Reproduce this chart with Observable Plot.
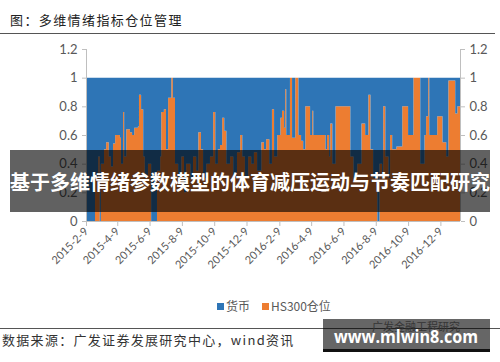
<!DOCTYPE html>
<html><head><meta charset="utf-8">
<script src="https://cdn.jsdelivr.net/npm/d3@7"></script>
<script src="https://cdn.jsdelivr.net/npm/@observablehq/plot@0.6"></script>
<style>
html,body{margin:0;padding:0;}
body{width:500px;height:362px;position:relative;overflow:hidden;background:#fff;font-family:"Noto Sans CJK SC",sans-serif;}
.abs{position:absolute;}
#title{left:10px;top:12px;font-size:13px;letter-spacing:1.4px;color:#222;line-height:16px;white-space:nowrap;}
.hr{position:absolute;left:0;height:1px;background:#555;}
#chart{left:0;top:38px;}
#legend{top:298px;left:0;width:500px;font-size:12px;color:#595959;line-height:16px;}
.sw{position:absolute;width:7px;height:7px;top:5px;}
.lt{position:absolute;top:0;white-space:nowrap;}
#banner{left:10px;top:150px;width:480px;height:62px;background:rgba(0,0,0,0.62);}
#bannerText{left:10px;top:169px;width:480px;text-align:center;font-size:20px;font-weight:bold;color:#fff;line-height:26px;white-space:nowrap;}
#source{left:2px;top:332px;font-size:13px;letter-spacing:1.3px;color:#333;line-height:16px;white-space:nowrap;}
</style></head><body>
<div id="title" class="abs">图：多维情绪指标仓位管理</div>
<div class="hr" style="top:33px;width:495px"></div>
<div id="chart" class="abs"></div>
<div id="legend" class="abs"></div>
<div id="banner" class="abs"></div>
<div id="bannerText" class="abs">基于多维情绪参数模型的体育减压运动与节奏匹配研究</div>
<div class="hr" style="top:328px;width:500px"></div>
<div id="source" class="abs">数据来源：广发证券发展研究中心，wind资讯</div>
<svg class="abs" style="left:0;top:0" width="500" height="362">
  <text x="372" y="331" font-size="11" fill="#888" font-family="Noto Sans CJK SC">广发金融工程研究</text>
  <rect x="323" y="319" width="167" height="31" fill="rgba(0,0,0,0.6)"></rect>
  <rect x="323" y="349" width="167" height="3" fill="#111"></rect>
  <text x="334" y="343" font-size="18" font-weight="bold" fill="#fff" font-family="Open Sans" textLength="144" lengthAdjust="spacingAndGlyphs">www.mlwin8.com</text>
</svg>
<script>
// ---- data ----
const seriesNames = ["货币", "HS300仓位"];
const dates = [
"2015-02-09","2015-02-26","2015-03-04","2015-03-07","2015-03-09","2015-03-15","2015-03-19","2015-03-24","2015-03-28","2015-04-01",
"2015-04-05","2015-04-14","2015-04-16","2015-04-20","2015-04-22","2015-04-26","2015-05-03","2015-05-07","2015-05-11","2015-05-18",
"2015-05-20","2015-05-24","2015-05-28","2015-05-31","2015-06-06","2015-06-12","2015-06-23","2015-06-29","2015-07-01","2015-07-06",
"2015-07-10","2015-07-14","2015-07-20","2015-07-23","2015-07-27","2015-08-02","2015-08-08","2015-08-13","2015-08-17","2015-08-25",
"2015-08-30","2015-09-05","2015-09-09","2015-09-14","2015-09-18","2015-09-24","2015-10-01","2015-10-07","2015-10-11","2015-10-16",
"2015-10-20","2015-10-24","2015-10-28","2015-11-01","2015-11-08","2015-11-14","2015-11-21","2015-11-27","2015-12-01","2015-12-06",
"2015-12-12","2015-12-18","2015-12-23","2015-12-29","2016-01-06","2016-01-11","2016-01-15","2016-01-21","2016-01-26","2016-01-30",
"2016-02-05","2016-02-11","2016-02-14","2016-02-18","2016-02-20","2016-02-22","2016-02-29","2016-03-04","2016-03-10","2016-03-16",
"2016-03-21","2016-03-25","2016-03-29","2016-04-07","2016-04-11","2016-04-13","2016-05-06","2016-05-09","2016-05-13","2016-05-15",
"2016-05-19","2016-05-25","2016-06-22","2016-06-28","2016-07-05","2016-07-13","2016-07-20","2016-07-26","2016-07-30","2016-08-04",
"2016-08-12","2016-08-16","2016-08-21","2016-08-23","2016-08-27","2016-09-02","2016-09-05","2016-09-09","2016-09-17","2016-09-28",
"2016-10-09","2016-10-19","2016-11-01","2016-11-09","2016-11-12","2016-11-16","2016-11-18","2016-12-03","2016-12-13","2016-12-20",
"2016-12-24","2017-01-06","2017-01-10","2017-01-15"
];
const hs300 = [
0,0.3,0.45,0,0.4,0.5,0.55,0.45,0.38,0.54,
0.6,0.58,0.4,0.76,0.45,0.64,0.62,0.6,0.65,0.66,
0.88,0.78,0.45,0.3,0.4,0,0.35,0.45,0.76,0.78,
0.5,0.86,1,0.86,0.4,0.3,0.45,0.2,0.4,0.3,
0.45,0.35,0.62,0.5,0.3,0.4,0.45,0.76,0.4,0.5,
0.53,0.72,0.63,0.4,0.45,0.3,0.48,0.6,0.45,0.3,
0.45,0.4,0.48,0.35,0.55,0.5,0.57,0.4,0.78,0.45,
0.6,0.72,0.77,0.65,0.92,0.6,1,0.58,1,0.6,
0.56,0.5,0.8,0.6,0.77,0.6,0.5,0.6,0.45,0.68,
0.4,0.8,0.45,0.3,0.4,0.68,0.6,0.88,0.5,0.3,
0,0.4,0.3,0.8,0.45,0.3,0.6,0.5,0.52,0.8,
0.6,1,0.4,0.6,0.73,1,0.6,0.73,0.55,0.45,
0.98,0.75,0.8,0.8
];
const yTicks = [0, 0.2, 0.4, 0.6, 0.8, 1, 1.2];
const xTickDates = ["2015-02-09","2015-04-09","2015-06-09","2015-08-09","2015-10-09","2015-12-09",
                    "2016-02-09","2016-04-09","2016-06-09","2016-08-09","2016-10-09","2016-12-09"];
const xTickLabels = ["2015-2-9","2015-4-9","2015-6-9","2015-8-9","2015-10-9","2015-12-9",
                     "2016-2-9","2016-4-9","2016-6-9","2016-8-9","2016-10-9","2016-12-9"];
const colors = ["#2E75B6", "#ED7D31"];
const xDomain = ["2015-02-09", "2017-01-15"];

// ---- build ----
const rows = [];
dates.forEach((d, i) => {
  const dt = new Date(d);
  rows.push({date: dt, series: seriesNames[1], v: hs300[i]});
  rows.push({date: dt, series: seriesNames[0], v: 1 - hs300[i]});
});
const labelMap = new Map(xTickDates.map((d, i) => [+new Date(d), xTickLabels[i]]));
const x0 = new Date(xDomain[0]), x1 = new Date(xDomain[1]);
const yFmt = d3.format("~g");

const chart = Plot.plot({
  width: 500, height: 262,
  marginTop: 11, marginBottom: 79, marginLeft: 86, marginRight: 40,
  style: {fontFamily: "Lato, sans-serif", fontSize: "12px", color: "#595959", background: "transparent"},
  x: {type: "utc", domain: [x0, x1], label: null},
  y: {domain: [0, 1.2], label: null},
  color: {domain: seriesNames, range: colors},
  marks: [
    Plot.areaY(rows, {x: "date", y: "v", fill: "series", order: [seriesNames[1], seriesNames[0]], curve: "step-after"}),
    Plot.ruleX([x0], {y1: 0, y2: 1.2, stroke: "#bfbfbf"}),
    Plot.ruleX([x1], {y1: 0, y2: 1.2, stroke: "#bfbfbf"}),
    Plot.ruleY([0], {stroke: "#bfbfbf"}),
    Plot.axisY(yTicks, {anchor: "left", label: null, tickFormat: yFmt, tickSize: 4, tickPadding: 5, stroke: "#bfbfbf", fill: "#595959", fontSize: 13}),
    Plot.axisY(yTicks, {anchor: "right", label: null, tickFormat: yFmt, tickSize: 4, tickPadding: 5, stroke: "#bfbfbf", fill: "#595959", fontSize: 13}),
    Plot.axisX(xTickDates.map(d => new Date(d)), {label: null, tickFormat: d => labelMap.get(+d), tickRotate: -45, tickSize: 5, tickPadding: 3, stroke: "#bfbfbf", fill: "#595959", fontSize: 11})
  ]
});
document.getElementById("chart").appendChild(chart);

// legend
const lg = document.getElementById("legend");
const legendPos = [{sx: 217, tx: 226}, {sx: 262, tx: 271}];
seriesNames.forEach((n, i) => {
  const s = document.createElement("div"); s.className = "sw";
  s.style.left = legendPos[i].sx + "px"; s.style.background = colors[i]; lg.appendChild(s);
  const t = document.createElement("div"); t.className = "lt";
  t.style.left = legendPos[i].tx + "px"; t.textContent = n; lg.appendChild(t);
});
</script>
</body></html>
